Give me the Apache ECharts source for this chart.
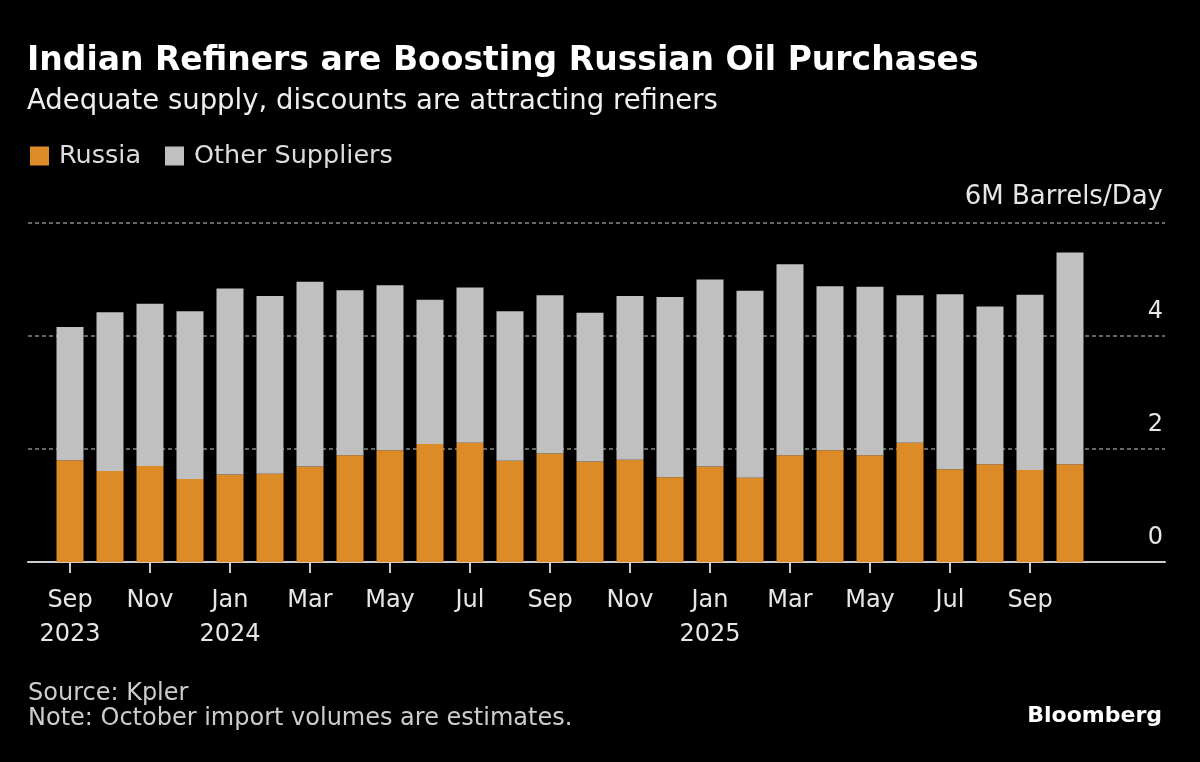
<!DOCTYPE html>
<html>
<head>
<meta charset="utf-8">
<script src="https://cdn.jsdelivr.net/npm/echarts@6/dist/echarts.min.js"></script>
<style>
  html, body { margin: 0; padding: 0; background: #000; }
  #chart { width: 1200px; height: 762px; }
</style>
</head>
<body>
<div id="chart"></div>
<script>
// months, Sep 2023 .. Oct 2025
var months = ['Sep 2023', 'Oct 2023', 'Nov 2023', 'Dec 2023',
  'Jan 2024', 'Feb 2024', 'Mar 2024', 'Apr 2024', 'May 2024', 'Jun 2024',
  'Jul 2024', 'Aug 2024', 'Sep 2024', 'Oct 2024', 'Nov 2024', 'Dec 2024',
  'Jan 2025', 'Feb 2025', 'Mar 2025', 'Apr 2025', 'May 2025', 'Jun 2025',
  'Jul 2025', 'Aug 2025', 'Sep 2025', 'Oct 2025']

// million barrels per day
var russia = [1.80, 1.61, 1.70, 1.47, 1.55, 1.56, 1.69, 1.89, 1.98, 2.09,
  2.11, 1.79, 1.92, 1.78, 1.81, 1.50, 1.69, 1.49, 1.89, 1.98,
  1.89, 2.11, 1.64, 1.73, 1.63, 1.73]
var otherSuppliers = [2.36, 2.81, 2.87, 2.97, 3.29, 3.15, 3.27, 2.92, 2.92, 2.55,
  2.75, 2.65, 2.80, 2.63, 2.90, 3.19, 3.31, 3.31, 3.38, 2.90,
  2.98, 2.61, 3.10, 2.79, 3.10, 3.75]

var yTicks = [0, 2, 4, 6]

var FONT = 'DejaVu Sans'
var chart = echarts.init(document.getElementById('chart'))

chart.setOption({
  backgroundColor: '#000',
  animation: false,
  title: [
    {
      text: 'Indian Refiners are Boosting Russian Oil Purchases',
      left: 27,
      top: 45,
      padding: 0,
      textStyle: { color: '#fff', fontSize: 33, fontWeight: 'bold', fontFamily: FONT }
    },
    {
      text: 'Adequate supply, discounts are attracting refiners',
      left: 27,
      top: 88,
      padding: 0,
      textStyle: { color: '#eee', fontSize: 27.5, fontWeight: 'normal', fontFamily: FONT }
    }
  ],
  legend: {
    left: 30,
    top: 143,
    padding: 0,
    itemWidth: 19,
    itemHeight: 19,
    itemGap: 24,
    icon: 'rect',
    textStyle: { color: '#ddd', fontSize: 25.5, fontFamily: FONT, padding: [0, 0, 0, 5] },
    data: ['Russia', 'Other Suppliers']
  },
  grid: [
    // background grid: gridlines, y labels, baseline
    { left: 28, right: 35, top: 223, bottom: 200 },
    // bars
    { left: 50, right: 110, top: 223, bottom: 200 }
  ],
  xAxis: [
    {
      gridIndex: 0,
      type: 'value',
      min: 0,
      max: 1,
      axisLine: { show: true, lineStyle: { color: '#ccc', width: 2 } },
      axisTick: { show: false },
      axisLabel: { show: false },
      splitLine: { show: false }
    },
    {
      gridIndex: 1,
      type: 'category',
      data: months,
      axisLine: { show: false },
      axisTick: {
        show: true,
        alignWithLabel: true,
        interval: 1,
        length: 11,
        lineStyle: { color: '#ccc', width: 2 }
      },
      axisLabel: {
        interval: 1,
        color: '#e6e6e6',
        fontSize: 24,
        lineHeight: 34,
        margin: 22,
        fontFamily: FONT,
        formatter: function (v, i) {
          var p = v.split(' ')
          return (i === 0 || p[0] === 'Jan') ? p[0] + '\n' + p[1] : p[0]
        }
      }
    }
  ],
  yAxis: [
    {
      gridIndex: 0,
      type: 'value',
      position: 'right',
      min: 0,
      max: 6,
      interval: 2,
      axisLine: { show: false },
      axisTick: { show: false },
      splitLine: { show: true, lineStyle: { color: '#888', width: 1.5, type: [4, 3] } },
      axisLabel: {
        inside: true,
        margin: 2,
        color: '#e6e6e6',
        fontSize: 24,
        fontFamily: FONT,
        verticalAlign: 'bottom',
        padding: [0, 0, 12, 0],
        formatter: function (v) {
          return v === yTicks[yTicks.length - 1] ? '{u|' + v + 'M Barrels/Day}' : String(v)
        },
        rich: {
          u: { fontSize: 26, fontFamily: FONT, color: '#e6e6e6', padding: [0, 0, 1, 0] }
        }
      }
    },
    {
      gridIndex: 1,
      type: 'value',
      min: 0,
      max: 6,
      show: false
    }
  ],
  series: [
    {
      name: 'Russia',
      type: 'bar',
      stack: 'total',
      xAxisIndex: 1,
      yAxisIndex: 1,
      barWidth: 27,
      itemStyle: { color: '#dc8b27' },
      data: russia
    },
    {
      name: 'Other Suppliers',
      type: 'bar',
      stack: 'total',
      xAxisIndex: 1,
      yAxisIndex: 1,
      barWidth: 27,
      itemStyle: { color: '#c0c0c0' },
      data: otherSuppliers
    }
  ],
  graphic: [
    {
      type: 'text',
      left: 28,
      top: 682,
      style: { text: 'Source: Kpler', fill: '#ccc', font: '24px "DejaVu Sans"' }
    },
    {
      type: 'text',
      left: 28,
      top: 707,
      style: { text: 'Note: October import volumes are estimates.', fill: '#ccc', font: '24px "DejaVu Sans"' }
    },
    {
      type: 'text',
      right: 38,
      top: 705,
      style: { text: 'Bloomberg', fill: '#fff', font: 'bold 22px "DejaVu Sans"' }
    }
  ]
})

window.addEventListener('resize', function () {
  chart.resize()
})
</script>
</body>
</html>
